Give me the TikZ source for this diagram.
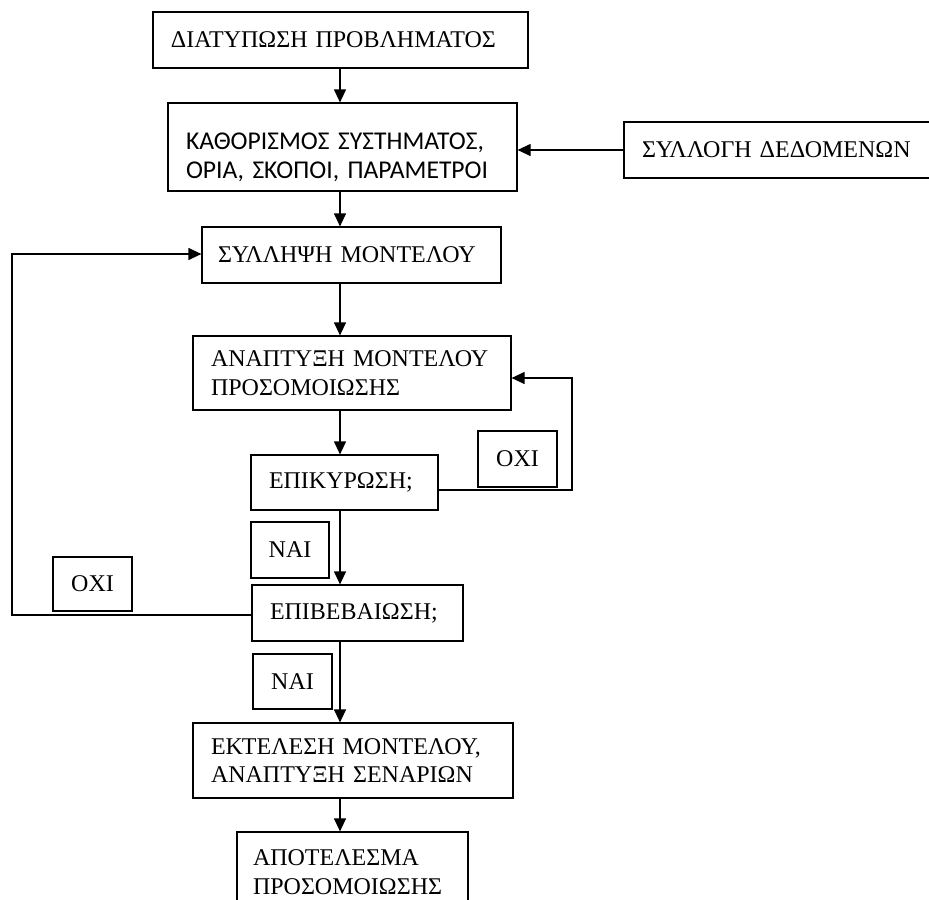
\documentclass[tikz,border=0pt]{standalone}
\usepackage{fontspec}
\setmainfont{Liberation Serif}
\newfontfamily\carlitofont{Carlito}
\usetikzlibrary{arrows.meta}
\begin{document}
\begin{tikzpicture}[x=1bp,y=-1bp,
  box/.style={draw, line width=1.2bp, rectangle, inner xsep=18bp, inner ysep=0pt, align=left,
    font=\fontsize{24bp}{28.5bp}\selectfont},
  tag/.style={draw, line width=1.2bp, rectangle, inner sep=0pt, align=center,
    minimum width=79bp, font=\fontsize{24bp}{28.5bp}\selectfont},
  arr/.style={line width=1.2bp, -{Triangle[length=13bp,width=12bp]}}]
\useasboundingbox (0,0) rectangle (929,900);

\node[box, text width=339bp, minimum height=56bp] (B1) at (340.5,40) {ΔΙΑΤΥΠΩΣΗ ΠΡΟΒΛΗΜΑΤΟΣ};
\node[box, text width=313bp, minimum height=88bp, font=\carlitofont\fontsize{25.6bp}{28.5bp}\selectfont] (B2) at (342.5,147) {\rule{0pt}{37bp}ΚΑΘΟΡΙΣΜΟΣ ΣΥΣΤΗΜΑΤΟΣ,\\ΟΡΙΑ, ΣΚΟΠΟΙ, ΠΑΡΑΜΕΤΡΟΙ};
\node[box, text width=274bp, minimum height=56bp] (S) at (779,150) {ΣΥΛΛΟΓΗ ΔΕΔΟΜΕΝΩΝ};
\node[box, text width=263bp, minimum height=56bp, inner xsep=16bp, text width=267bp] (B3) at (351.5,255) {ΣΥΛΛΗΨΗ ΜΟΝΤΕΛΟΥ};
\node[box, text width=282bp, minimum height=74bp] (B4) at (352,373) {ΑΝΑΠΤΥΞΗ ΜΟΝΤΕΛΟΥ\\ΠΡΟΣΟΜΟΙΩΣΗΣ};
\node[box, text width=151bp, minimum height=55bp] (B5) at (344.5,482.5) {ΕΠΙΚΥΡΩΣΗ;};
\node[tag, minimum height=56bp] (OXI1) at (517.5,459) {ΟΧΙ};
\node[tag, minimum width=78bp, minimum height=56bp] (NAI1) at (290,550) {ΝΑΙ};
\node[box, text width=175bp, minimum height=56bp] (B6) at (357.5,613) {ΕΠΙΒΕΒΑΙΩΣΗ;};
\node[tag, minimum height=54bp] (OXI2) at (92.5,584) {ΟΧΙ};
\node[tag, minimum height=55bp] (NAI2) at (292.5,681.5) {ΝΑΙ};
\node[box, text width=284bp, minimum height=75bp] (B7) at (353,760.5) {ΕΚΤΕΛΕΣΗ ΜΟΝΤΕΛΟΥ,\\ΑΝΑΠΤΥΞΗ ΣΕΝΑΡΙΩΝ};
\node[box, inner xsep=16bp, text width=199bp, minimum height=80bp] (B8) at (352.5,872) {ΑΠΟΤΕΛΕΣΜΑ\\ΠΡΟΣΟΜΟΙΩΣΗΣ};

\coordinate (sp) at (340,0);
\coordinate (rt) at (572,378);
\coordinate (rb) at (572,490);
\coordinate (lt) at (12,254);
\coordinate (lb) at (12,615);

\draw[arr] (B1.south -| sp) -- (B2.north -| sp);
\draw[arr] (S.west) -- (S.west -| B2.east);
\draw[arr] (B2.south -| sp) -- (B3.north -| sp);
\draw[arr] (B3.south -| sp) -- (B4.north -| sp);
\draw[arr] (B4.south -| sp) -- (B5.north -| sp);
\draw[arr] (B5.south -| sp) -- (B6.north -| sp);
\draw[arr] (B6.south -| sp) -- (B7.north -| sp);
\draw[arr] (B7.south -| sp) -- (B8.north -| sp);
\draw[arr] (rb -| B5.east) -- (rb) -- (rt) -- (rt -| B4.east);
\draw[arr] (lb -| B6.west) -- (lb) -- (lt) -- (lt -| B3.west);
\end{tikzpicture}
\end{document}
